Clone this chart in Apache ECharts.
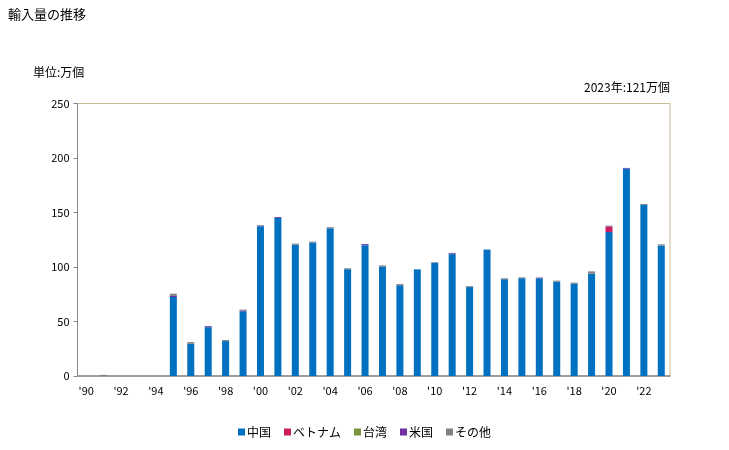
<!DOCTYPE html>
<html>
<head>
<meta charset="utf-8">
<script src="https://cdn.jsdelivr.net/npm/echarts@6/dist/echarts.min.js"></script>
<style>
html,body{margin:0;padding:0;background:#fff;}
#c{width:729px;height:450px;}
</style>
</head>
<body>
<div id="c"></div>
<script>
const years = ['1990','1991','1992','1993','1994','1995','1996','1997','1998','1999','2000','2001','2002','2003','2004','2005','2006','2007','2008','2009','2010','2011','2012','2013','2014','2015','2016','2017','2018','2019','2020','2021','2022','2023'];
const china   = [0,0,0,0,0,72.5,29.6,44.8,32,59.4,137.5,145,120.5,122.5,135.5,98,120,100.5,83.3,97.8,104,111.8,81.6,116,88.8,89.7,89.6,86.6,84.8,93.9,132,190.3,157,119.8];
const vietnam = [0,0,0,0,0,0,0,0,0,0,0,0,0,0,0,0,0,0,0,0,0,0,0,0,0,0,0,0,0,0,4.8,0,0,0];
const taiwan  = [0,0,0,0,0,0,0,0,0,0,0,0,0,0,0,0,0,0,0,0,0,0,0,0,0,0,0,0,0,1,0,0,0,0];
const usa     = [0,0,0,0,0,1,0,0.9,0,0.8,0.5,0.8,0,0,0,0,1,0,0,0,0,0.8,0,0,0,0,0.7,0,0,0.6,0.6,0.6,0,0];
const other   = [0,1,0,0,0,2,1.5,0,1,0.7,0.5,0,1,0.8,1,0.8,0,1,1,0,0.5,0.4,0.8,0,0.8,0.8,0,0.9,0.9,0.5,0.5,0,0.8,1];
const yTicks = [0,50,100,150,200,250];

const font = '"Noto Sans CJK JP", "Noto Sans", sans-serif';
const chart = echarts.init(document.getElementById('c'));
function s(name, data, color){
  return {name, type:'bar', stack:'t', data, barWidth:7, itemStyle:{color}, emphasis:{disabled:true}};
}
chart.setOption({
  animation:false,
  textStyle:{fontFamily:font},
  title:[
    {text:'輸入量の推移', left:3, top:3, textStyle:{fontSize:13, fontWeight:'normal', color:'#000', fontFamily:font}},
    {text:'単位:万個', left:28, top:61, textStyle:{fontSize:12, fontWeight:'normal', color:'#000', fontFamily:font}},
    {text:'2023年:121万個', right:54, top:76, textStyle:{fontSize:12, fontWeight:'normal', color:'#000', fontFamily:font}}
  ],
  legend:{
    bottom:7, left:'center', itemWidth:7, itemHeight:7, itemGap:13, icon:'rect',
    textStyle:{fontSize:12, color:'#000', fontFamily:font, padding:[0,0,0,-3]},
    data:['中国','ベトナム','台湾','米国','その他']
  },
  grid:{left:77.5, right:59, top:103.5, bottom:74, show:true, borderColor:'#c8bd8f', borderWidth:1, backgroundColor:'transparent'},
  xAxis:{
    type:'category', data:years,
    axisLine:{lineStyle:{color:'#888', width:1.5}},
    axisTick:{show:false},
    axisLabel:{interval:1, color:'#000', fontSize:11, margin:9, fontFamily:font, formatter:v=>"'"+v.slice(2)}
  },
  yAxis:{
    type:'value', min:yTicks[0], max:yTicks[yTicks.length-1], interval:50,
    axisLine:{show:true, lineStyle:{color:'#888'}},
    axisTick:{show:true, length:4, lineStyle:{color:'#888'}},
    splitLine:{show:false},
    axisLabel:{color:'#000', fontSize:11, margin:8, fontFamily:font}
  },
  series:[
    s('中国', china, '#0070c0'),
    s('ベトナム', vietnam, '#cc1e5e'),
    s('台湾', taiwan, '#77933c'),
    s('米国', usa, '#7030a0'),
    s('その他', other, '#808080')
  ]
});
</script>
</body>
</html>
